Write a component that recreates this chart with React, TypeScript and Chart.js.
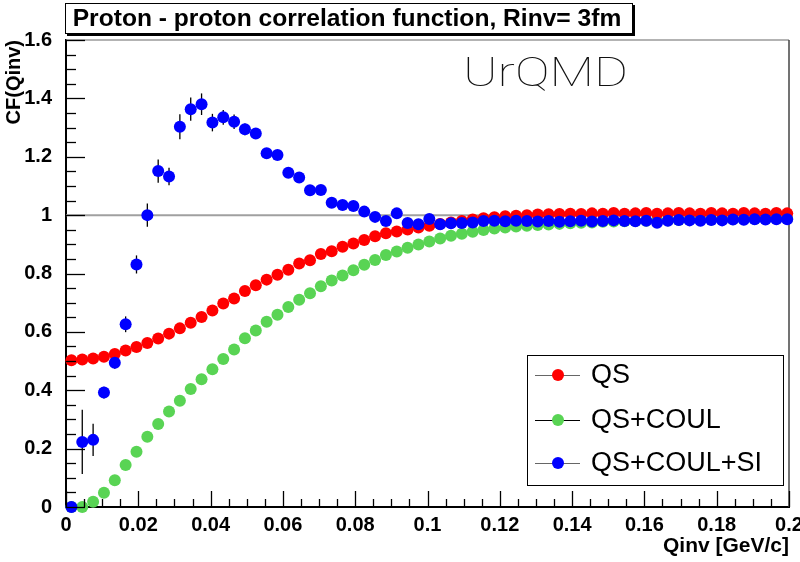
import React, { useEffect, useRef } from "react";
import { Chart, registerables } from "chart.js";

Chart.register(...registerables);

const titleText = "Proton - proton correlation function, Rinv= 3fm";
const xAxisTitle = "Qinv [GeV/c]";
const yAxisTitle = "CF(Qinv)";
const modelLabel = "UrQMD";
const seriesNames = ["QS", "QS+COUL", "QS+COUL+SI"];
const seriesColors = ["#ff0000", "#59d454", "#0000ff"];

// bin centres (Qinv, GeV/c)
const qinv = [
  0.0015, 0.0045, 0.0075, 0.0105, 0.0135, 0.0165, 0.0195, 0.0225, 0.0255, 0.0285,
  0.0315, 0.0345, 0.0375, 0.0405, 0.0435, 0.0465, 0.0495, 0.0525, 0.0555, 0.0585,
  0.0615, 0.0645, 0.0675, 0.0705, 0.0735, 0.0765, 0.0795, 0.0825, 0.0855, 0.0885,
  0.0915, 0.0945, 0.0975, 0.1005, 0.1035, 0.1065, 0.1095, 0.1125, 0.1155, 0.1185,
  0.1215, 0.1245, 0.1275, 0.1305, 0.1335, 0.1365, 0.1395, 0.1425, 0.1455, 0.1485,
  0.1515, 0.1545, 0.1575, 0.1605, 0.1635, 0.1665, 0.1695, 0.1725, 0.1755, 0.1785,
  0.1815, 0.1845, 0.1875, 0.1905, 0.1935, 0.1965, 0.1995,
];

const cfQS = [
  0.503, 0.505, 0.509, 0.515, 0.524, 0.536, 0.548, 0.562, 0.577, 0.594,
  0.612, 0.631, 0.651, 0.673, 0.697, 0.714, 0.740, 0.760, 0.779, 0.796,
  0.813, 0.834, 0.845, 0.867, 0.876, 0.892, 0.903, 0.915, 0.928, 0.938,
  0.944, 0.951, 0.958, 0.964, 0.970, 0.975, 0.980, 0.985, 0.989, 0.993,
  0.996, 0.998, 1.000, 1.002, 1.003, 1.004, 1.005, 1.004, 1.006, 1.005,
  1.007, 1.005, 1.006, 1.007, 1.005, 1.006, 1.007, 1.006, 1.005, 1.007,
  1.006, 1.005, 1.007, 1.006, 1.005, 1.007, 1.006,
];

const cfQSCoul = [
  0.000, 0.000, 0.018, 0.049, 0.092, 0.144, 0.189, 0.241, 0.284, 0.327,
  0.364, 0.404, 0.438, 0.472, 0.507, 0.540, 0.578, 0.605, 0.635, 0.659,
  0.685, 0.710, 0.732, 0.756, 0.776, 0.793, 0.811, 0.830, 0.846, 0.863,
  0.875, 0.888, 0.899, 0.910, 0.920, 0.929, 0.936, 0.943, 0.949, 0.954,
  0.958, 0.961, 0.964, 0.966, 0.968, 0.970, 0.972, 0.974, 0.975, 0.977,
  0.978, 0.979, 0.980, 0.981, 0.982, 0.982, 0.983, 0.984, 0.984, 0.985,
  0.985, 0.986, 0.986, 0.987, 0.987, 0.988, 0.988,
];

const cfQSCoulSI = [
  0.000, 0.223, 0.230, 0.392, 0.494, 0.626, 0.831, 1.000, 1.151, 1.132,
  1.303, 1.363, 1.380, 1.317, 1.335, 1.320, 1.294, 1.280, 1.212, 1.206,
  1.145, 1.129, 1.085, 1.086, 1.042, 1.035, 1.031, 1.012, 0.994, 0.980,
  1.006, 0.973, 0.969, 0.987, 0.969, 0.972, 0.973, 0.975, 0.980, 0.981,
  0.979, 0.981, 0.980, 0.978, 0.980, 0.977, 0.979, 0.981, 0.978, 0.980,
  0.982, 0.980, 0.979, 0.981, 0.974, 0.981, 0.983, 0.982, 0.981, 0.983,
  0.982, 0.985, 0.984, 0.986, 0.985, 0.986, 0.986,
];

const errQSCoulSI = [
  0.000, 0.110, 0.055, 0.020, 0.020, 0.027, 0.031, 0.040, 0.040, 0.030,
  0.043, 0.040, 0.037, 0.030, 0.025, 0.025, 0.020, 0.015, 0.015, 0.012,
  0.012, 0.010, 0.010, 0.009, 0.009, 0.008, 0.008, 0.008, 0.007, 0.007,
  0.007, 0.007, 0.006, 0.006, 0.006, 0.006, 0.006, 0.005, 0.005, 0.005,
  0.005, 0.005, 0.005, 0.005, 0.005, 0.005, 0.005, 0.005, 0.005, 0.005,
  0.005, 0.005, 0.005, 0.005, 0.005, 0.005, 0.005, 0.005, 0.005, 0.005,
  0.005, 0.005, 0.005, 0.005, 0.005, 0.005, 0.005,
];

const xTickValues = [0, 0.02, 0.04, 0.06, 0.08, 0.1, 0.12, 0.14, 0.16, 0.18, 0.2];
const xTickLabels = ["0", "0.02", "0.04", "0.06", "0.08", "0.1", "0.12", "0.14", "0.16", "0.18", "0.2"];
const yTickValues = [0, 0.2, 0.4, 0.6, 0.8, 1, 1.2, 1.4, 1.6];
const yTickLabels = ["0", "0.2", "0.4", "0.6", "0.8", "1", "1.2", "1.4", "1.6"];
const referenceLevel = 1;
const xMinorPerMajor = 4;
const yMinorPerMajor = 4;

const SANS = "'Liberation Sans', Arial, Helvetica, sans-serif";

const decorPlugin = {
  id: "rootDecor",
  beforeDraw(chart: any) {
    const ctx = chart.ctx;
    ctx.save();
    ctx.fillStyle = "#ffffff";
    ctx.fillRect(0, 0, chart.width, chart.height);
    ctx.restore();
  },
  beforeDatasetsDraw(chart: any) {
    const { ctx, chartArea: a, scales } = chart;
    const xs = scales.x;
    const ys = scales.y;
    ctx.save();
    // frame top / right
    ctx.strokeStyle = "#9a9a9a";
    ctx.lineWidth = 1.5;
    ctx.beginPath();
    ctx.moveTo(a.left, a.top);
    ctx.lineTo(a.right, a.top);
    ctx.stroke();
    ctx.strokeStyle = "#444";
    ctx.beginPath();
    ctx.moveTo(a.right, a.top);
    ctx.lineTo(a.right, a.bottom);
    ctx.stroke();
    // reference line at 1
    const yr = ys.getPixelForValue(referenceLevel);
    ctx.strokeStyle = "#a0a0a0";
    ctx.lineWidth = 2;
    ctx.beginPath();
    ctx.moveTo(a.left, yr);
    ctx.lineTo(a.right, yr);
    ctx.stroke();
    // error bars
    ctx.strokeStyle = "#000";
    ctx.lineWidth = 1.3;
    for (let i = 0; i < qinv.length; i++) {
      const e = errQSCoulSI[i];
      if (!e) continue;
      const px = xs.getPixelForValue(qinv[i]);
      ctx.beginPath();
      ctx.moveTo(px, ys.getPixelForValue(cfQSCoulSI[i] - e));
      ctx.lineTo(px, ys.getPixelForValue(cfQSCoulSI[i] + e));
      ctx.stroke();
    }
    ctx.restore();
  },
  afterDatasetsDraw(chart: any) {
    const { ctx, chartArea: a, scales } = chart;
    const xs = scales.x;
    const ys = scales.y;
    ctx.save();
    // ticks (inside)
    ctx.strokeStyle = "#000";
    ctx.lineWidth = 1.3;
    const xStep = (xTickValues[1] - xTickValues[0]) / xMinorPerMajor;
    const nx = (xTickValues.length - 1) * xMinorPerMajor;
    for (let k = 0; k <= nx; k++) {
      const px = Math.round(xs.getPixelForValue(k * xStep)) + 0.5;
      const len = k % xMinorPerMajor === 0 ? 16 : 8;
      ctx.beginPath();
      ctx.moveTo(px, a.bottom);
      ctx.lineTo(px, a.bottom - len);
      ctx.stroke();
    }
    const yStep = (yTickValues[1] - yTickValues[0]) / yMinorPerMajor;
    const ny = (yTickValues.length - 1) * yMinorPerMajor;
    for (let k = 0; k <= ny; k++) {
      const py = Math.round(ys.getPixelForValue(k * yStep)) + 0.5;
      const len = k % yMinorPerMajor === 0 ? 19 : 10;
      ctx.beginPath();
      ctx.moveTo(a.left, py);
      ctx.lineTo(a.left + len, py);
      ctx.stroke();
    }

    // title box with shadow
    const tx = 65, ty = 3, tw = 568, th = 31;
    ctx.fillStyle = "#000";
    ctx.fillRect(tx + 2, ty + 2, tw, th);
    ctx.fillStyle = "#fff";
    ctx.fillRect(tx, ty, tw, th);
    ctx.strokeStyle = "#000";
    ctx.lineWidth = 1;
    ctx.strokeRect(tx + 0.5, ty + 0.5, tw - 1, th - 1);
    ctx.fillStyle = "#000";
    ctx.font = `bold 24.6px ${SANS}`;
    ctx.textAlign = "center";
    ctx.textBaseline = "middle";
    ctx.fillText(titleText, tx + tw / 2 - 2, ty + th / 2 + 1);

    // model label (thin, stretched to the reference width)
    ctx.font = `100 40px Roboto, 'Open Sans', Lato, sans-serif`;
    ctx.textAlign = "left";
    ctx.textBaseline = "alphabetic";
    const mw = ctx.measureText(modelLabel).width || 1;
    ctx.save();
    ctx.translate(463, 86);
    ctx.scale(165 / mw, 1);
    ctx.fillStyle = "#111";
    ctx.fillText(modelLabel, 0, 0);
    ctx.restore();

    // axis titles
    ctx.fillStyle = "#000";
    ctx.font = `bold 21px ${SANS}`;
    ctx.textAlign = "right";
    ctx.textBaseline = "middle";
    ctx.fillText(xAxisTitle, a.right, 546);
    ctx.save();
    ctx.font = `bold 20px ${SANS}`;
    ctx.translate(14, a.top);
    ctx.rotate(-Math.PI / 2);
    ctx.textAlign = "right";
    ctx.fillText(yAxisTitle, 0, 0);
    ctx.restore();

    // legend
    const lx = 527, ly = 355, lw = 256, lh = 130;
    ctx.fillStyle = "#fff";
    ctx.fillRect(lx, ly, lw, lh);
    ctx.strokeStyle = "#000";
    ctx.lineWidth = 1;
    ctx.strokeRect(lx + 0.5, ly + 0.5, lw, lh);
    const rows = [375, 420, 463];
    const lineCols = ["#666", "#000", "#666"];
    ctx.font = `27px ${SANS}`;
    ctx.textAlign = "left";
    ctx.textBaseline = "middle";
    seriesNames.forEach((name, i) => {
      const ry = rows[i];
      ctx.strokeStyle = lineCols[i];
      ctx.lineWidth = 1;
      ctx.beginPath();
      ctx.moveTo(535, ry + 0.5);
      ctx.lineTo(580, ry + 0.5);
      ctx.stroke();
      ctx.fillStyle = seriesColors[i];
      ctx.beginPath();
      ctx.arc(558, ry, 6, 0, Math.PI * 2);
      ctx.fill();
      ctx.fillStyle = "#000";
      ctx.fillText(name, 591, ry + 1);
    });
    ctx.restore();
  },
};

export default function App() {
  const ref = useRef<HTMLCanvasElement | null>(null);
  useEffect(() => {
    if (!ref.current) return;
    const mk = (ys: number[], i: number, order: number) => ({
      label: seriesNames[i],
      data: qinv.map((x, k) => ({ x, y: ys[k] })),
      backgroundColor: seriesColors[i],
      borderColor: seriesColors[i],
      borderWidth: 0,
      pointRadius: 6,
      pointHoverRadius: 6,
      showLine: false,
      clip: false,
      order,
    });
    const tickFont = { family: SANS, size: 20, weight: "bold" as const };
    const chart = new Chart(ref.current, {
      type: "scatter",
      data: {
        datasets: [mk(cfQS, 0, 1), mk(cfQSCoul, 1, 2), mk(cfQSCoulSI, 2, 0)],
      },
      plugins: [decorPlugin],
      options: {
        animation: false,
        responsive: false,
        devicePixelRatio: 1,
        layout: { padding: { top: 40, right: 11, left: 0, bottom: 0 } },
        plugins: { legend: { display: false }, tooltip: { enabled: false }, title: { display: false } },
        events: [],
        scales: {
          x: {
            type: "linear",
            min: 0,
            max: 0.2,
            grid: { display: false },
            border: { display: true, color: "#000", width: 2 },
            afterBuildTicks: (s: any) => {
              s.ticks = xTickValues.map((v) => ({ value: v }));
            },
            afterFit: (s: any) => {
              s.height = 55;
              s.paddingLeft = 0;
              s.paddingRight = 0;
            },
            ticks: {
              autoSkip: false,
              maxRotation: 0,
              minRotation: 0,
              padding: -2,
              color: "#000",
              font: tickFont,
              callback: (v: any) => {
                const idx = xTickValues.findIndex((t) => Math.abs(t - Number(v)) < 1e-9);
                return idx >= 0 ? xTickLabels[idx] : "";
              },
            },
          },
          y: {
            type: "linear",
            min: 0,
            max: 1.6,
            grid: { display: false },
            border: { display: true, color: "#000", width: 2 },
            afterBuildTicks: (s: any) => {
              s.ticks = yTickValues.map((v) => ({ value: v }));
            },
            afterFit: (s: any) => {
              s.width = 66;
              s.paddingTop = 0;
              s.paddingBottom = 0;
            },
            ticks: {
              autoSkip: false,
              padding: 6,
              color: "#000",
              font: tickFont,
              callback: (v: any) => {
                const idx = yTickValues.findIndex((t) => Math.abs(t - Number(v)) < 1e-9);
                return idx >= 0 ? yTickLabels[idx] : "";
              },
            },
          },
        },
      } as any,
    });
    return () => chart.destroy();
  }, []);
  return (
    <div style={{ position: "fixed", left: 0, top: 0, width: 800, height: 562, background: "#fff" }}>
      <canvas ref={ref} width={800} height={562} style={{ width: 800, height: 562, display: "block" }} />
    </div>
  );
}
